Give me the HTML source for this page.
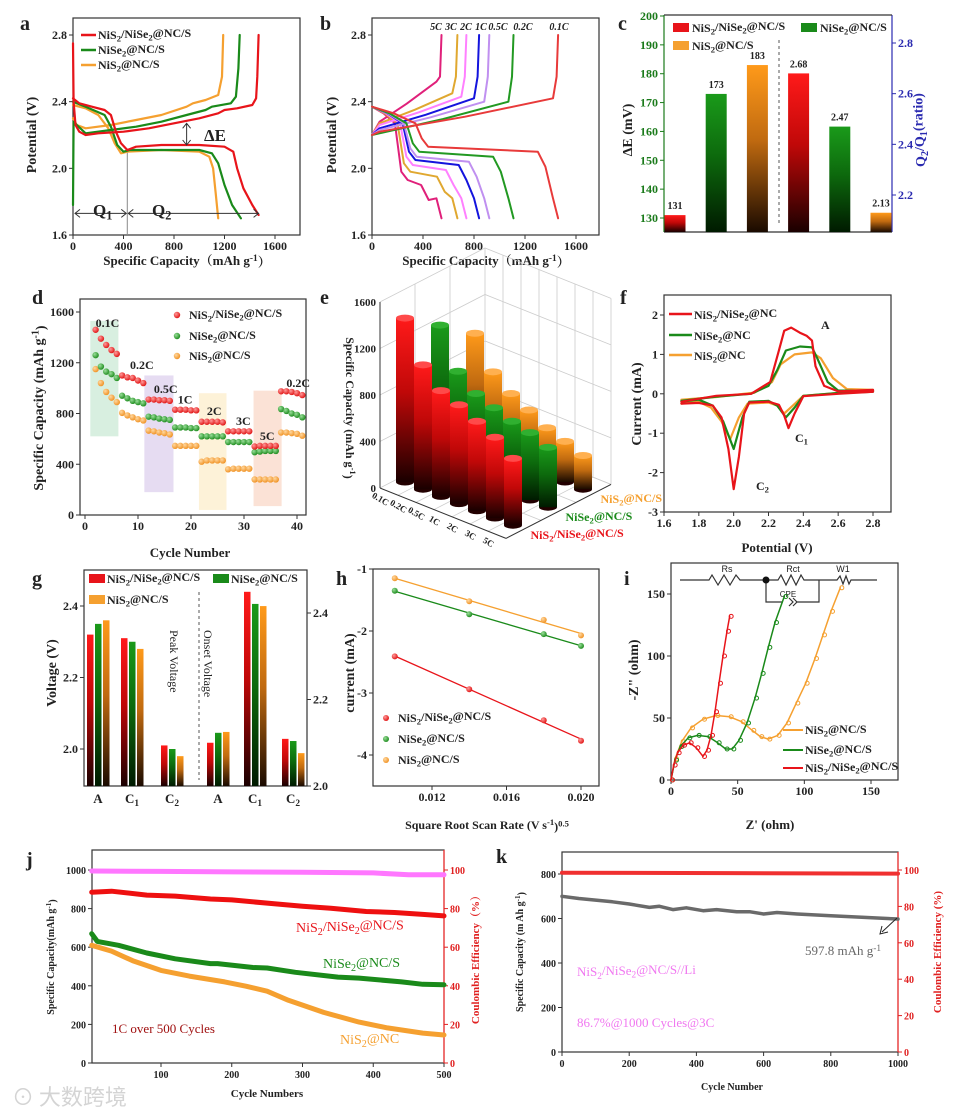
<!DOCTYPE html>
<html><head><meta charset="utf-8">
<style>
html,body{margin:0;padding:0;background:#fff;}
svg{display:block;font-family:"Liberation Serif","Noto Serif CJK SC",serif;}
</style></head>
<body>
<svg id="fig" width="964" height="1113" viewBox="0 0 964 1113" xmlns="http://www.w3.org/2000/svg">
<defs>
<linearGradient id="gR" x1="0" y1="0" x2="0" y2="1"><stop offset="0" stop-color="#ff1a1a"/><stop offset="0.45" stop-color="#c00808"/><stop offset="1" stop-color="#1a0000"/></linearGradient>
<linearGradient id="gG" x1="0" y1="0" x2="0" y2="1"><stop offset="0" stop-color="#1a9a1a"/><stop offset="0.45" stop-color="#0d6a0d"/><stop offset="1" stop-color="#001a00"/></linearGradient>
<linearGradient id="gO" x1="0" y1="0" x2="0" y2="1"><stop offset="0" stop-color="#ff9a1a"/><stop offset="0.45" stop-color="#c06a10"/><stop offset="1" stop-color="#1a0a00"/></linearGradient>
<radialGradient id="bR" cx="0.35" cy="0.35" r="0.7"><stop offset="0" stop-color="#ff9a9a"/><stop offset="1" stop-color="#e01010"/></radialGradient>
<radialGradient id="bG" cx="0.35" cy="0.35" r="0.7"><stop offset="0" stop-color="#9ade9a"/><stop offset="1" stop-color="#1a8a1a"/></radialGradient>
<radialGradient id="bO" cx="0.35" cy="0.35" r="0.7"><stop offset="0" stop-color="#ffd8a0"/><stop offset="1" stop-color="#f09020"/></radialGradient>
</defs>
</svg>
<script>
// ---------- data ----------
// panel a
const aRedDis=[[0,2.42],[50,2.39],[150,2.37],[250,2.35],[300,2.32],[340,2.22],[380,2.15],[430,2.11],[500,2.13],[700,2.14],[1000,2.14],[1200,2.13],[1270,2.1],[1300,2.0],[1350,1.88],[1420,1.78],[1470,1.72]];
const aRedCha=[[0,2.75],[5,2.4],[20,2.26],[50,2.22],[100,2.2],[200,2.21],[400,2.22],[600,2.24],[800,2.27],[1000,2.3],[1150,2.33],[1200,2.35],[1300,2.36],[1420,2.38],[1450,2.42],[1460,2.55],[1470,2.8]];
const aGrnDis=[[0,2.4],[100,2.37],[250,2.32],[300,2.25],[350,2.14],[400,2.1],[450,2.11],[700,2.11],[1000,2.11],[1100,2.09],[1150,2.03],[1200,1.9],[1260,1.78],[1330,1.7]];
const aGrnCha=[[0,1.78],[5,2.28],[30,2.26],[100,2.21],[300,2.23],[500,2.25],[700,2.28],[900,2.32],[1050,2.35],[1100,2.37],[1250,2.39],[1290,2.43],[1310,2.6],[1320,2.8]];
const aOrgDis=[[0,2.38],[100,2.36],[200,2.32],[280,2.24],[330,2.15],[380,2.09],[430,2.1],[700,2.11],[1000,2.1],[1080,2.07],[1110,2.0],[1130,1.85],[1150,1.7]];
const aOrgCha=[[0,2.3],[30,2.26],[100,2.24],[300,2.26],[500,2.29],[700,2.32],[900,2.37],[950,2.39],[1050,2.41],[1150,2.44],[1180,2.55],[1190,2.8]];
// panel b
const bRates=["0.1C","0.2C","0.5C","1C","2C","3C","5C"];
const bCaps=[1460,1110,920,840,740,670,545];
const bKnee=[340,270,250,240,220,200,180];
const bLowPlat=[2.13,2.1,2.07,2.05,2.02,1.98,1.93];
const bChargeStart=[2.22,2.21,2.23,2.24,2.26,2.27,2.28];
const bChargeEnd=[2.42,2.4,2.4,2.42,2.43,2.45,2.52];
const bColors=["#e83a3a","#229922","#c090f0","#1414dd","#ff80ff","#e0a830","#e0207a"];
// panel c
const cLeftVals=[131,173,183];
const cRightVals=[2.68,2.47,2.13];
const cLeftLabels=["131","173","183"];
const cRightLabels=["2.68","2.47","2.13"];
// panel d
const dRed=[1460,1390,1340,1300,1270,1100,1085,1080,1060,1040,910,910,905,905,900,830,830,830,825,825,735,735,735,735,730,660,660,660,660,660,540,545,545,545,545,975,975,970,960,945];
const dGrn=[1260,1170,1130,1110,1080,940,920,900,890,880,775,770,760,755,750,690,690,690,685,685,620,620,620,620,620,575,575,575,575,575,495,500,505,505,505,835,820,800,790,770];
const dOrg=[1150,1040,970,925,890,805,785,770,755,745,665,660,650,645,635,545,545,545,545,545,420,430,430,430,430,360,365,365,365,365,280,280,280,280,280,650,650,645,640,625];
const dRateLabels=["0.1C","0.2C","0.5C","1C","2C","3C","5C","0.2C"];
// panel e
const eCats=["0.1C","0.2C","0.5C","1C","2C","3C","5C"];
const eRed=[1410,1070,910,850,770,695,575];
const eGrn=[1195,860,730,670,615,580,515];
const eOrg=[970,700,575,495,405,350,290];
// panel f
const fRed=[[1.7,-0.25],[1.8,-0.23],[1.88,-0.3],[1.93,-0.6],[1.97,-1.4],[2.0,-2.42],[2.03,-1.6],[2.06,-0.5],[2.09,-0.22],[2.2,-0.2],[2.26,-0.28],[2.29,-0.55],[2.315,-0.87],[2.35,-0.5],[2.4,-0.06],[2.6,0],[2.8,0.05],[2.8,0.1],[2.6,0.06],[2.52,0.2],[2.47,0.7],[2.45,1.35],[2.42,1.47],[2.38,1.55],[2.33,1.68],[2.29,1.6],[2.26,1.1],[2.21,0.3],[2.1,0],[1.9,-0.05],[1.7,-0.2]];
const fGrn=[[1.7,-0.2],[1.8,-0.15],[1.88,-0.3],[1.94,-0.7],[2.0,-1.4],[2.05,-0.6],[2.09,-0.2],[2.2,-0.18],[2.25,-0.3],[2.3,-0.6],[2.35,-0.35],[2.4,-0.05],[2.6,0.02],[2.8,0.05],[2.8,0.08],[2.6,0.08],[2.54,0.3],[2.48,0.9],[2.45,1.18],[2.38,1.2],[2.3,1.1],[2.25,0.6],[2.2,0.2],[2.1,0],[1.9,-0.07],[1.7,-0.18]];
const fOrg=[[1.7,-0.25],[1.8,-0.2],[1.87,-0.35],[1.93,-0.7],[1.98,-1.15],[2.03,-0.6],[2.08,-0.25],[2.2,-0.22],[2.25,-0.3],[2.29,-0.5],[2.34,-0.3],[2.4,-0.05],[2.6,0.02],[2.8,0.08],[2.8,0.1],[2.65,0.12],[2.57,0.4],[2.5,0.9],[2.45,1.05],[2.35,1.0],[2.27,0.75],[2.22,0.3],[2.12,0.03],[1.9,-0.08],[1.7,-0.15]];
// panel g
const gGroups=["A","C_1","C_2","A","C_1","C_2"];
const gRed=[2.32,2.31,2.01,2.10,2.449,2.109];
const gGrn=[2.35,2.30,2.00,2.123,2.421,2.104];
const gOrg=[2.36,2.28,1.98,2.125,2.416,2.076];
// panel h
const hX=[0.010,0.014,0.018,0.020];
const hRed=[-2.41,-2.94,-3.44,-3.77];
const hGrn=[-1.35,-1.73,-2.05,-2.24];
const hOrg=[-1.15,-1.52,-1.82,-2.07];
// panel i
const iRed=[[0,0],[2,12],[5,22],[9,28],[14,30],[19,26],[24,19],[27,24],[30,36],[33,55],[36,78],[39,100],[42,120],[44,132]];
const iGrn=[[0,0],[3,16],[7,27],[13,34],[20,36],[28,35],[35,30],[41,25],[46,25],[51,32],[57,46],[63,66],[68,86],[73,107],[78,127],[85,148]];
const iOrg=[[0,0],[3,17],[8,31],[15,42],[24,49],[34,52],[44,51],[53,47],[61,40],[67,35],[73,33],[80,36],[87,46],[94,62],[101,78],[108,98],[114,117],[120,136],[127,155]];
// panel j
const jCE=[[2,99.5],[100,99.3],[200,99],[300,98.8],[400,98.5],[450,97.5],[500,97.5]];
const jRed=[[2,885],[30,890],[80,870],[120,865],[170,850],[200,845],[260,825],[300,812],[340,802],[390,785],[430,780],[470,770],[500,762]];
const jGrn=[[2,670],[10,630],[40,610],[80,570],[120,540],[170,515],[180,515],[230,495],[250,492],[290,470],[350,445],[380,440],[440,420],[470,408],[500,405]];
const jOrg=[[2,610],[30,580],[60,530],[100,480],[140,450],[190,420],[220,398],[250,372],[280,325],[330,262],[380,212],[420,182],[470,155],[500,145]];
// panel k
const kCE=[[0,98.5],[500,98.3],[1000,98]];
const kCap=[[0,700],[50,690],[150,675],[200,665],[260,650],[290,655],[330,640],[370,648],[420,635],[460,640],[520,630],[560,630],[600,620],[640,627],[700,620],[800,612],[900,605],[1000,597.8]];

// ---------- helpers ----------
const NS='http://www.w3.org/2000/svg';
const svg=document.getElementById('fig');
function mk(parent,tag,attrs,name){
  const el=document.createElementNS(NS,tag);
  for(const k in attrs) el.setAttribute(k,attrs[k]);
  
  
  parent.appendChild(el);
  return el;
}
function fmt(s){
  return s.replace(/_(\w)/g,'<tspan dy="0.3em" font-size="0.72em">$1</tspan><tspan dy="-0.3em">\u200b</tspan>')
          .replace(/\^\{([^}]*)\}/g,'<tspan dy="-0.45em" font-size="0.72em">$1</tspan><tspan dy="0.45em">\u200b</tspan>');
}
function T(x,y,s,size,o,name){
  o=o||{};
  const a={x:x,y:y,'font-size':size,'font-weight':o.w||'bold',fill:o.fill||'#222','text-anchor':o.anchor||'start'};
  if(o.italic) a['font-style']='italic';
  if(o.rot!==undefined) a.transform='rotate('+o.rot+' '+x+' '+y+')';
  if(o.family) a['font-family']=o.family;
  const t=mk(svg,'text',a,name);
  t.innerHTML=fmt(s);
  return t;
}
const lin=(d0,d1,r0,r1)=>v=>r0+(v-d0)*(r1-r0)/(d1-d0);
function frame(x0,y0,x1,y1,name){mk(svg,'rect',{x:x0,y:y0,width:x1-x0,height:y1-y0,fill:'none',stroke:'#333','stroke-width':1.2},name);}
function pathD(pts,sx,sy){return pts.map((p,i)=>(i?'L':'M')+sx(p[0]).toFixed(1)+' '+sy(p[1]).toFixed(1)).join(' ');}
function line(pts,sx,sy,color,w,name,extra){const a={d:pathD(pts,sx,sy),fill:'none',stroke:color,'stroke-width':w,'stroke-linejoin':'round','stroke-linecap':'round'};if(extra)Object.assign(a,extra);return mk(svg,'path',a,name);}
function yTicks(vals,sy,x,side,size,color,name,labels){
  vals.forEach((v,i)=>{
    const y=sy(v);
    mk(svg,'line',{x1:x,x2:x+(side==='l'?-4:4),y1:y,y2:y,stroke:color||'#333','stroke-width':1},name+'-tick');
    T(side==='l'?x-6:x+6,y+4,labels?labels[i]:String(v),size,{anchor:side==='l'?'end':'start',fill:color||'#222'},name+'-label');
  });
}
function xTicks(vals,sx,y,size,name,labels){
  vals.forEach((v,i)=>{
    const x=sx(v);
    mk(svg,'line',{x1:x,x2:x,y1:y,y2:y+4,stroke:'#333','stroke-width':1},name+'-tick');
    T(x,y+15,labels?labels[i]:String(v),size,{anchor:'middle'},name+'-label');
  });
}
function panelLetter(x,y,s){T(x,y,s,20,{},'panel-label-'+s);}

// ---------- panel a ----------
panelLetter(20,30,'a');
{
const sx=lin(0,400,73,123.5), sy=lin(1.6,2.8,235,35);
frame(73,18,300,235,'panel-a-plot-area');
xTicks([0,400,800,1200,1600],sx,235,12,'panel-a-x-axis');
yTicks([1.6,2.0,2.4,2.8],sy,73,'l',12,null,'panel-a-y-axis',["1.6","2.0","2.4","2.8"]);
T(36,135,'Potential (V)',14,{anchor:'middle',rot:-90},'panel-a-y-axis-title');
T(187,265,'Specific Capacity（mAh g^{-1}）',13,{anchor:'middle',family:'"Liberation Serif","Noto Serif CJK SC",serif'},'panel-a-x-axis-title');
mk(svg,'line',{x1:sx(430),x2:sx(430),y1:sy(2.11),y2:sy(1.6),stroke:'#888','stroke-width':1},'q-divider-line');
[[aOrgCha,'#f5a030'],[aOrgDis,'#f5a030'],[aGrnCha,'#1a8a1a'],[aGrnDis,'#1a8a1a'],[aRedCha,'#e8141a'],[aRedDis,'#e8141a']].forEach((s,i)=>line(s[0],sx,sy,s[1],2.2,'panel-a-curve'));
const ay=sy(1.73);
mk(svg,'path',{d:`M${sx(0)+2} ${ay} L${sx(430)-1} ${ay} M${sx(0)+7} ${ay-4} L${sx(0)+2} ${ay} L${sx(0)+7} ${ay+4} M${sx(430)-6} ${ay-4} L${sx(430)-1} ${ay} L${sx(430)-6} ${ay+4}`,stroke:'#333',fill:'none','stroke-width':1},'q1-arrow');
mk(svg,'path',{d:`M${sx(430)+1} ${ay} L${sx(1470)} ${ay} M${sx(430)+6} ${ay-4} L${sx(430)+1} ${ay} L${sx(430)+6} ${ay+4} M${sx(1470)-5} ${ay-4} L${sx(1470)} ${ay} L${sx(1470)-5} ${ay+4}`,stroke:'#333',fill:'none','stroke-width':1},'q2-arrow');
T(93,216,'Q_1',17,{},'q1-label');T(152,216,'Q_2',17,{},'q2-label');
const dx=sx(900);
mk(svg,'path',{d:`M${dx} ${sy(2.27)} L${dx} ${sy(2.14)} M${dx-4} ${sy(2.27)+5} L${dx} ${sy(2.27)} L${dx+4} ${sy(2.27)+5} M${dx-4} ${sy(2.14)-5} L${dx} ${sy(2.14)} L${dx+4} ${sy(2.14)-5}`,stroke:'#333',fill:'none','stroke-width':1},'delta-e-arrow');
T(204,141,'ΔE',17,{},'delta-e-label');
const lg=[['NiS_2/NiSe_2@NC/S','#e8141a'],['NiSe_2@NC/S','#1a8a1a'],['NiS_2@NC/S','#f5a030']];
lg.forEach((l,i)=>{const y=35+i*15;mk(svg,'line',{x1:81,x2:96,y1:y,y2:y,stroke:l[1],'stroke-width':2.5},'panel-a-legend-swatch');T(98,y+4,l[0],12,{},'panel-a-legend-entry');});
}

// ---------- panel b ----------
panelLetter(320,30,'b');
{
const sx=lin(0,400,372,423), sy=lin(1.6,2.8,235,35);
const bLabelX=[559,523,498,481,466,451,436];
frame(372,18,599,235,'panel-b-plot-area');
xTicks([0,400,800,1200,1600],sx,235,12,'panel-b-x-axis');
yTicks([1.6,2.0,2.4,2.8],sy,372,'l',12,null,'panel-b-y-axis',["1.6","2.0","2.4","2.8"]);
T(336,135,'Potential (V)',14,{anchor:'middle',rot:-90},'panel-b-y-axis-title');
T(486,265,'Specific Capacity（mAh g^{-1}）',13,{anchor:'middle',family:'"Liberation Serif","Noto Serif CJK SC",serif'},'panel-b-x-axis-title');
for(let i=bCaps.length-1;i>=0;i--){
  const C=bCaps[i],q=bKnee[i],P=bLowPlat[i],cs=bChargeStart[i],ce=bChargeEnd[i];
  const dis=[[0,2.37],[q*0.5,2.33],[q,2.27],[q+50,P+0.05],[q+100,P],[C-160,P-0.03],[C-100,P-0.12],[C-40,1.82],[C,1.7]];
  const cha=[[0,2.2],[60,cs],[C*0.5,cs+(ce-cs)*0.45],[C-40,ce],[C-12,2.55],[C,2.8]];
  line(dis,sx,sy,bColors[i],2,'rate-discharge-curve-'+bRates[i]);
  line(cha,sx,sy,bColors[i],2,'rate-charge-curve-'+bRates[i]);
  T(bLabelX[i],30,bRates[i],10,{italic:true,anchor:'middle'},'rate-label-'+bRates[i]);
}
}

// ---------- panel c ----------
panelLetter(618,30,'c');
{
const syL=lin(130,200,218,16), syR=lin(2.2,2.8,195,43), xc=lin(0,5,675,881);
mk(svg,'line',{x1:664,x2:664,y1:15,y2:232,stroke:'#1a7a1a','stroke-width':1.2},'panel-c-left-axis-line');
mk(svg,'line',{x1:892,x2:892,y1:15,y2:232,stroke:'#2b2bb0','stroke-width':1.2},'panel-c-right-axis-line');
mk(svg,'line',{x1:664,x2:892,y1:232,y2:232,stroke:'#333','stroke-width':1.2},'panel-c-x-axis-line');
mk(svg,'line',{x1:664,x2:892,y1:15,y2:15,stroke:'#333','stroke-width':1.2},'panel-c-top-line');
yTicks([130,140,150,160,170,180,190,200],syL,664,'l',12,'#1a7a1a','panel-c-left-axis');
yTicks([2.2,2.4,2.6,2.8],syR,892,'r',12,'#2b2bb0','panel-c-right-axis',["2.2","2.4","2.6","2.8"]);
T(632,130,'ΔE (mV)',14,{anchor:'middle',rot:-90},'panel-c-left-axis-title');
T(925,130,'Q_2/Q_1(ratio)',14,{anchor:'middle',rot:-90,fill:'#2b2bb0'},'panel-c-right-axis-title');
const grads=['url(#gR)','url(#gG)','url(#gO)'];
cLeftVals.forEach((v,i)=>{const x=xc(i),y=syL(v);mk(svg,'rect',{x:x-10.5,y:y,width:21,height:232-y,fill:grads[i]},'delta-e-bar');T(x,y-6,cLeftLabels[i],10,{anchor:'middle'},'delta-e-bar-value');});
cRightVals.forEach((v,i)=>{const x=xc(i+3),y=syR(v);mk(svg,'rect',{x:x-10.5,y:y,width:21,height:232-y,fill:grads[i]},'ratio-bar');T(x,y-6,cRightLabels[i],10,{anchor:'middle'},'ratio-bar-value');});
mk(svg,'line',{x1:779,x2:779,y1:40,y2:225,stroke:'#555','stroke-dasharray':'3,3','stroke-width':1},'panel-c-divider');
[['NiS_2/NiSe_2@NC/S','#e8141a',673,23],['NiSe_2@NC/S','#1a8a1a',801,23],['NiS_2@NC/S','#f5a030',673,41]].forEach(l=>{mk(svg,'rect',{x:l[2],y:l[3],width:16,height:9,fill:l[1]},'panel-c-legend-swatch');T(l[2]+19,l[3]+9,l[0],12,{},'panel-c-legend-entry');});
}

// ---------- panel d ----------
panelLetter(32,304,'d');
{
const sx=lin(0,40,85,297), sy=lin(0,1600,515,312);
[[1,6.3,1530,620,'#d8efe0'],[11.2,16.7,1100,180,'#e6dcf2'],[21.5,26.7,960,40,'#fdf2d8'],[31.8,37.1,980,70,'#fbe2d6']].forEach(b=>mk(svg,'rect',{x:sx(b[0]),y:sy(b[2]),width:sx(b[1])-sx(b[0]),height:sy(b[3])-sy(b[2]),fill:b[4]},'rate-shade-box'));
frame(80,299,306,515,'panel-d-plot-area');
xTicks([0,10,20,30,40],sx,515,12,'panel-d-x-axis');
yTicks([0,400,800,1200,1600],sy,80,'l',12,null,'panel-d-y-axis');
T(43,408,'Specific Capacity (mAh g^{-1})',14,{anchor:'middle',rot:-90},'panel-d-y-axis-title');
T(190,557,'Cycle Number',13,{anchor:'middle'},'panel-d-x-axis-title');
[[dOrg,'url(#bO)'],[dGrn,'url(#bG)'],[dRed,'url(#bR)']].forEach(s=>s[0].forEach((v,i)=>mk(svg,'circle',{cx:sx(i+2),cy:sy(v),r:3.2,fill:s[1]},'rate-point')));
const rl=[[2,1480],[8.5,1150],[13,960],[17.5,880],[23,790],[28.5,710],[33,590],[38,1010]];
rl.forEach((p,i)=>T(sx(p[0]),sy(p[1]),dRateLabels[i],12,{},'panel-d-rate-label'));
[['NiS_2/NiSe_2@NC/S','url(#bR)',315],['NiSe_2@NC/S','url(#bG)',336],['NiS_2@NC/S','url(#bO)',356]].forEach(l=>{mk(svg,'circle',{cx:177,cy:l[2],r:3.2,fill:l[1]},'panel-d-legend-marker');T(189,l[2]+4,l[0],12,{},'panel-d-legend-entry');});
}

// ---------- panel e ----------
panelLetter(320,304,'e');
{
const A=[380,488], cat=[18,7.2], ser=[35,-18], base0=[405,482];
const ey=lin(0,1600,488,302), hpx=v=>ey(0)-ey(v);
const D=[A[0]+3*ser[0],A[1]+3*ser[1]], B=[A[0]+7*cat[0],A[1]+7*cat[1]], C=[D[0]+7*cat[0],D[1]+7*cat[1]];
const H=hpx(1600);
[0,400,800,1200,1600].forEach(v=>{const h=hpx(v);
  mk(svg,'path',{d:`M${A[0]} ${A[1]-h} L${D[0]} ${D[1]-h} L${C[0]} ${C[1]-h}`,fill:'none',stroke:'#ccc','stroke-width':0.8},'panel-e-wall-gridline');});
for(let k=0;k<=3;k++){const x=A[0]+k*ser[0],y=A[1]+k*ser[1];mk(svg,'line',{x1:x,y1:y,x2:x,y2:y-H,stroke:'#ccc','stroke-width':0.8},'panel-e-wall-gridline');}
for(let k=1;k<=7;k++){const x=D[0]+k*cat[0],y=D[1]+k*cat[1];mk(svg,'line',{x1:x,y1:y,x2:x,y2:y-H,stroke:'#ccc','stroke-width':0.8},'panel-e-wall-gridline');}
for(let k=1;k<=7;k++){mk(svg,'line',{x1:A[0]+k*cat[0],y1:A[1]+k*cat[1],x2:D[0]+k*cat[0],y2:D[1]+k*cat[1],stroke:'#ccc','stroke-width':0.8},'panel-e-floor-gridline');}
for(let k=1;k<=3;k++){mk(svg,'line',{x1:A[0]+k*ser[0],y1:A[1]+k*ser[1],x2:B[0]+k*ser[0],y2:B[1]+k*ser[1],stroke:'#ccc','stroke-width':0.8},'panel-e-floor-gridline');}
mk(svg,'line',{x1:A[0],y1:A[1],x2:A[0],y2:A[1]-H,stroke:'#333','stroke-width':1},'panel-e-z-axis');
mk(svg,'line',{x1:A[0],y1:A[1],x2:B[0],y2:B[1],stroke:'#333','stroke-width':1},'panel-e-category-axis');
mk(svg,'line',{x1:B[0],y1:B[1],x2:C[0],y2:C[1],stroke:'#333','stroke-width':1},'panel-e-series-axis');
[0,400,800,1200,1600].forEach(v=>{T(A[0]-4,ey(v)+4,String(v),11,{anchor:'end'},'panel-e-z-tick-label');});
T(346,408,'Specific Capacity (mAh g^{-1})',12,{anchor:'middle',rot:90},'panel-e-z-axis-title');
const series=[[eOrg,'url(#gO)','#ffb050',2],[eGrn,'url(#gG)','#30b030',1],[eRed,'url(#gR)','#ff4a4a',0]];
series.forEach(s=>{s[0].forEach((v,i)=>{
  const bx=base0[0]+i*cat[0]+s[3]*ser[0], by=base0[1]+i*cat[1]+s[3]*ser[1], h=hpx(v);
  mk(svg,'ellipse',{cx:bx,cy:by,rx:9,ry:3.5,fill:'#200'},'cylinder-base');
  mk(svg,'rect',{x:bx-9,y:by-h,width:18,height:h,fill:s[1]},'cylinder-bar');
  mk(svg,'ellipse',{cx:bx,cy:by-h,rx:9,ry:3.5,fill:s[2]},'cylinder-top');
});});
eCats.forEach((c,i)=>{const x=A[0]+(i+0.5)*cat[0]-10,y=A[1]+(i+0.5)*cat[1]+10;T(x,y,c,9,{anchor:'middle',rot:30},'panel-e-category-label');});
[['NiS_2/NiSe_2@NC/S','#e8141a',0],['NiSe_2@NC/S','#1a8a1a',1],['NiS_2@NC/S','#f5a030',2]].forEach(l=>{const x=B[0]+(l[2]+0.3)*ser[0]+14,y=B[1]+(l[2]+0.3)*ser[1]+6;T(x,y,l[0],12,{fill:l[1]},'panel-e-series-label');});
}

// ---------- panel f ----------
panelLetter(620,304,'f');
{
const sx=lin(1.6,2.8,664,873), sy=lin(-3,2,512,315);
frame(664,295,891,512,'panel-f-plot-area');
xTicks([1.6,1.8,2.0,2.2,2.4,2.6,2.8],sx,512,12,'panel-f-x-axis',["1.6","1.8","2.0","2.2","2.4","2.6","2.8"]);
yTicks([-3,-2,-1,0,1,2],sy,664,'l',12,null,'panel-f-y-axis');
T(641,404,'Current (mA)',14,{anchor:'middle',rot:-90},'panel-f-y-axis-title');
T(777,552,'Potential (V)',13,{anchor:'middle'},'panel-f-x-axis-title');
line(fOrg,sx,sy,'#f5a030',2.2,'cv-curve-nis2');line(fGrn,sx,sy,'#1a8a1a',2.2,'cv-curve-nise2');line(fRed,sx,sy,'#e8141a',2.2,'cv-curve-heterostructure');
T(821,329,'A',12,{},'peak-label-a');T(795,442,'C_1',12,{},'peak-label-c1');T(756,490,'C_2',12,{},'peak-label-c2');
[['NiS_2/NiSe_2@NC','#e8141a',314],['NiSe_2@NC','#1a8a1a',335],['NiS_2@NC','#f5a030',355]].forEach(l=>{mk(svg,'line',{x1:669,x2:692,y1:l[2],y2:l[2],stroke:l[1],'stroke-width':2.5},'panel-f-legend-swatch');T(694,l[2]+5,l[0],12,{},'panel-f-legend-entry');});
}

// ---------- panel g ----------
panelLetter(32,585,'g');
{
const syL=lin(2.0,2.4,749,606), syR=lin(2.0,2.4,786,613), gx=[98,132,172,218,255,293];
frame(84,570,307,786,'panel-g-plot-area');
yTicks([2.0,2.2,2.4],syL,84,'l',12,null,'panel-g-left-axis',["2.0","2.2","2.4"]);
yTicks([2.0,2.2,2.4],syR,307,'r',12,null,'panel-g-right-axis',["2.0","2.2","2.4"]);
T(56,673,'Voltage (V)',14,{anchor:'middle',rot:-90},'panel-g-y-axis-title');
const grads=['url(#gR)','url(#gG)','url(#gO)'];
[gRed,gGrn,gOrg].forEach((s,k)=>s.forEach((v,i)=>{const sc=i<3?syL:syR;const y=sc(v);mk(svg,'rect',{x:gx[i]-11+k*8,y:y,width:6.5,height:786-y,fill:grads[k]},'voltage-bar');}));
gGroups.forEach((g,i)=>T(gx[i],803,g,13,{anchor:'middle'},'panel-g-group-label'));
mk(svg,'line',{x1:199,x2:199,y1:592,y2:780,stroke:'#555','stroke-dasharray':'3,3','stroke-width':1},'panel-g-divider');
T(170,630,'Peak Voltage',12,{rot:90,w:'normal'},'peak-voltage-label');
T(204,630,'Onset Voltage',12,{rot:90,w:'normal'},'onset-voltage-label');
[['NiS_2/NiSe_2@NC/S','#e8141a',89,574],['NiSe_2@NC/S','#1a8a1a',213,574],['NiS_2@NC/S','#f5a030',89,595]].forEach(l=>{mk(svg,'rect',{x:l[2],y:l[3],width:16,height:9,fill:l[1]},'panel-g-legend-swatch');T(l[2]+18,l[3]+9,l[0],12,{},'panel-g-legend-entry');});
}

// ---------- panel h ----------
panelLetter(336,585,'h');
{
const sx=lin(0.012,0.020,432,581), sy=lin(-1,-4,569,755);
frame(373,569,599,786,'panel-h-plot-area');
xTicks([0.012,0.016,0.020],sx,786,12,'panel-h-x-axis',["0.012","0.016","0.020"]);
yTicks([-1,-2,-3,-4],sy,373,'l',12,null,'panel-h-y-axis');
T(354,673,'current (mA)',14,{anchor:'middle',rot:-90},'panel-h-y-axis-title');
T(487,829,'Square Root Scan Rate (V s^{-1})^{0.5}',12,{anchor:'middle'},'panel-h-x-axis-title');
function fit(ys){const n=hX.length,mx=hX.reduce((a,b)=>a+b)/n,my=ys.reduce((a,b)=>a+b)/n;let sxy=0,sxx=0;hX.forEach((x,i)=>{sxy+=(x-mx)*(ys[i]-my);sxx+=(x-mx)*(x-mx);});const m=sxy/sxx;return x=>my+m*(x-mx);}
[[hOrg,'#f5a030','url(#bO)'],[hGrn,'#1a8a1a','url(#bG)'],[hRed,'#e8141a','url(#bR)']].forEach(s=>{
  const f=fit(s[0]);
  mk(svg,'line',{x1:sx(hX[0]),y1:sy(f(hX[0])),x2:sx(hX[hX.length-1]),y2:sy(f(hX[hX.length-1])),stroke:s[1],'stroke-width':1.3},'fit-line');
  s[0].forEach((v,i)=>mk(svg,'circle',{cx:sx(hX[i]),cy:sy(v),r:3,fill:s[2]},'scan-point'));
});
[['NiS_2/NiSe_2@NC/S','url(#bR)',718],['NiSe_2@NC/S','url(#bG)',739],['NiS_2@NC/S','url(#bO)',760]].forEach(l=>{mk(svg,'circle',{cx:386,cy:l[2],r:3,fill:l[1]},'panel-h-legend-marker');T(398,l[2]+4,l[0],12,{},'panel-h-legend-entry');});
}

// ---------- panel i ----------
panelLetter(624,585,'i');
{
const sx=lin(0,150,671,871), sy=lin(0,150,780,594);
frame(671,563,898,780,'panel-i-plot-area');
xTicks([0,50,100,150],sx,780,12,'panel-i-x-axis');
yTicks([0,50,100,150],sy,671,'l',12,null,'panel-i-y-axis');
T(638,670,'-Z" (ohm)',14,{anchor:'middle',rot:-90},'panel-i-y-axis-title');
T(770,829,"Z' (ohm)",13,{anchor:'middle'},'panel-i-x-axis-title');
mk(svg,'path',{d:'M680 580 L709 580 L712 575 L718 585 L724 575 L730 585 L736 575 L740 580 L766 580 L778 580 L781 575 L786 585 L791 575 L796 585 L801 575 L804 580 L819 580 L837 580 L840 576 L843 584 L846 576 L849 584 L851 580 L877 580 M766 580 L766 602 L783 602 M789 598 L793 602 L789 606 M793 598 L797 602 L793 606 M797 602 L819 602 L819 580',fill:'none',stroke:'#333','stroke-width':1.2},'equivalent-circuit');
mk(svg,'circle',{cx:766,cy:580,r:3.5,fill:'#111'},'circuit-node');
T(727,572,'Rs',9,{w:'normal',anchor:'middle',family:'"Liberation Sans",sans-serif'},'circuit-label-rs');
T(793,572,'Rct',9,{w:'normal',anchor:'middle',family:'"Liberation Sans",sans-serif'},'circuit-label-rct');
T(843,572,'W1',9,{w:'normal',anchor:'middle',family:'"Liberation Sans",sans-serif'},'circuit-label-w1');
T(788,597,'CPE',8,{w:'normal',anchor:'middle',family:'"Liberation Sans",sans-serif'},'circuit-label-cpe');
[[iOrg,'#f5a030'],[iGrn,'#1a8a1a'],[iRed,'#e8141a']].forEach(s=>{
  line(s[0],sx,sy,s[1],1.5,'eis-fit-line');
  s[0].forEach(p=>mk(svg,'circle',{cx:sx(p[0])+1.5,cy:sy(p[1]),r:2,fill:'none',stroke:s[1],'stroke-width':1},'eis-point'));
});
[['NiS_2@NC/S','#f5a030',730],['NiSe_2@NC/S','#1a8a1a',750],['NiS_2/NiSe_2@NC/S','#e8141a',768]].forEach(l=>{mk(svg,'line',{x1:783,x2:803,y1:l[2],y2:l[2],stroke:l[1],'stroke-width':2},'panel-i-legend-swatch');T(805,l[2]+4,l[0],12,{},'panel-i-legend-entry');});
}

// ---------- panel j ----------
panelLetter(26,866,'j');
{
const sx=lin(100,500,161,444), syL=lin(0,1000,1063,870), syR=lin(0,100,1063,870);
mk(svg,'rect',{x:92,y:850,width:352,height:213,fill:'none',stroke:'#333','stroke-width':1.2},'panel-j-plot-area');
mk(svg,'line',{x1:444,x2:444,y1:850,y2:1063,stroke:'#ff3030','stroke-width':1.2},'panel-j-right-axis-line');
xTicks([100,200,300,400,500],sx,1063,10,'panel-j-x-axis');
yTicks([0,200,400,600,800,1000],syL,92,'l',10,null,'panel-j-left-axis');
yTicks([0,20,40,60,80,100],syR,444,'r',10,'#e02020','panel-j-right-axis');
T(54,957,'Specific Capacity(mAh g^{-1})',10,{anchor:'middle',rot:-90},'panel-j-y-axis-title');
T(479,957,'Coulombic Efficiency（%）',11,{anchor:'middle',rot:-90,fill:'#e02020'},'panel-j-right-axis-title');
T(267,1097,'Cycle Numbers',11,{anchor:'middle'},'panel-j-x-axis-title');
line(jCE,sx,syR,'#ff77ff',5,'coulombic-efficiency-line');
line(jRed,sx,syL,'#ee1010',5,'capacity-heterostructure');
line(jGrn,sx,syL,'#1a8a1a',5,'capacity-nise2');
line(jOrg,sx,syL,'#f5a030',5,'capacity-nis2');
T(296,932,'NiS_2/NiSe_2@NC/S',14,{fill:'#e8141a',w:'normal'},'series-label-heterostructure');
T(323,968,'NiSe_2@NC/S',14,{fill:'#1a8a1a',w:'normal'},'series-label-nise2');
T(340,1044,'NiS_2@NC',14,{fill:'#f5a030',w:'normal'},'series-label-nis2');
T(112,1033,'1C over 500 Cycles',13,{fill:'#a01010',w:'normal'},'rate-annotation');
T(12,1105,'⊙ 大数跨境',22,{fill:'#d4d4d4',w:'normal',family:'"Noto Sans CJK SC",sans-serif'},'watermark');
}

// ---------- panel k ----------
panelLetter(496,863,'k');
{
const sx=lin(0,1000,562,898), syL=lin(0,800,1052,874), syR=lin(0,100,1052,870);
mk(svg,'rect',{x:562,y:852,width:336,height:200,fill:'none',stroke:'#333','stroke-width':1.2},'panel-k-plot-area');
mk(svg,'line',{x1:898,x2:898,y1:852,y2:1052,stroke:'#ff3030','stroke-width':1.2},'panel-k-right-axis-line');
xTicks([0,200,400,600,800,1000],sx,1052,10,'panel-k-x-axis');
yTicks([0,200,400,600,800],syL,562,'l',10,null,'panel-k-left-axis');
yTicks([0,20,40,60,80,100],syR,898,'r',10,'#e02020','panel-k-right-axis');
T(523,952,'Specific Capacity (m Ah g^{-1})',10,{anchor:'middle',rot:-90},'panel-k-y-axis-title');
T(941,952,'Coulombic Efficiency (%)',11,{anchor:'middle',rot:-90,fill:'#e02020'},'panel-k-right-axis-title');
T(732,1090,'Cycle Number',10,{anchor:'middle'},'panel-k-x-axis-title');
line(kCE,sx,syR,'#f03030',4,'coulombic-efficiency-line');
line(kCap,sx,syL,'#6a6a6a',3.5,'capacity-line');
mk(svg,'path',{d:'M897 918 L882 932 M882 926 L880 934 L888 932',fill:'none',stroke:'#222','stroke-width':1},'capacity-arrow');
T(805,955,'597.8 mAh g^{-1}',13,{fill:'#666',w:'normal'},'final-capacity-annotation');
T(577,976,'NiS_2/NiSe_2@NC/S//Li',13,{fill:'#f078f0',w:'normal'},'cell-label');
T(577,1027,'86.7%@1000 Cycles@3C',13,{fill:'#f078f0',w:'normal'},'retention-label');
}
</script>
</body></html>
